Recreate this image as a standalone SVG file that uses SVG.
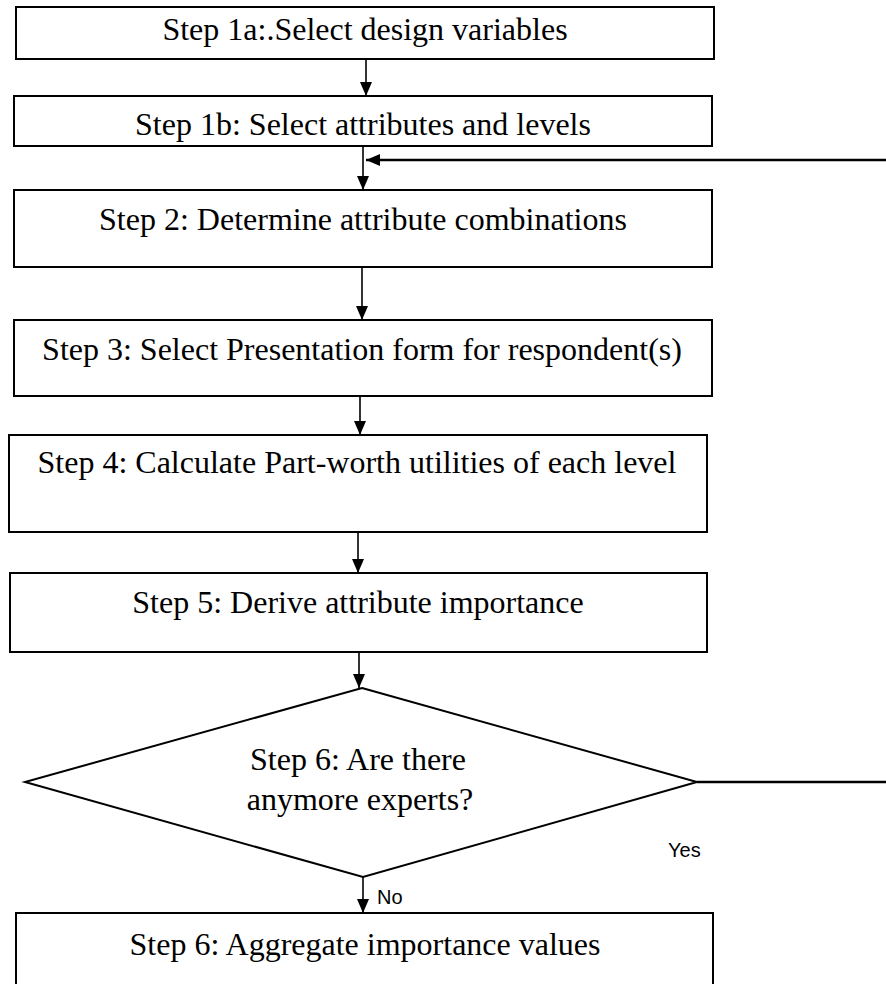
<svg xmlns="http://www.w3.org/2000/svg" width="886" height="984" viewBox="0 0 886 984">
<style>
.box{fill:#fff;stroke:#000;stroke-width:2}
.t{font-family:"Liberation Serif","Times New Roman",serif;font-size:32px;fill:#000;text-anchor:middle}
.lbl{font-family:"Liberation Sans",Arial,sans-serif;font-size:20px;fill:#000}
.c{fill:none;stroke:#000;stroke-width:1.6}
.fb{fill:none;stroke:#000;stroke-width:2.4}
</style>
<defs>
<marker id="ah" viewBox="0 0 14 12" refX="14" refY="6" markerWidth="14" markerHeight="12" markerUnits="userSpaceOnUse" orient="auto">
<path d="M0,0 L14,6 L0,12 Z" fill="#000"/>
</marker>
</defs>
<rect width="886" height="984" fill="#fff"/>
<g id="connectors">
<line class="c" x1="366" y1="59" x2="366" y2="96" marker-end="url(#ah)"/>
<line class="c" x1="363" y1="146" x2="363" y2="190" marker-end="url(#ah)"/>
<line class="fb" x1="886" y1="160" x2="366" y2="160" marker-end="url(#ah)"/>
<line class="c" x1="362" y1="267" x2="362" y2="320" marker-end="url(#ah)"/>
<line class="c" x1="360" y1="396" x2="360" y2="435" marker-end="url(#ah)"/>
<line class="c" x1="358" y1="532" x2="358" y2="573" marker-end="url(#ah)"/>
<line class="c" x1="359" y1="652" x2="359" y2="688" marker-end="url(#ah)"/>
<line class="fb" x1="697" y1="782" x2="886" y2="782"/>
<line class="c" x1="363" y1="877" x2="363" y2="913" marker-end="url(#ah)"/>
<text class="lbl" x="668" y="857">Yes</text>
<text class="lbl" x="377" y="904">No</text>
</g>
<g id="step1a">
<rect class="box" x="16" y="7" width="698" height="52"/>
<text class="t" x="365" y="40">Step 1a:.Select design variables</text>
</g>
<g id="step1b">
<rect class="box" x="14" y="96" width="698" height="50"/>
<text class="t" x="363" y="135">Step 1b: Select attributes and levels</text>
</g>
<g id="step2">
<rect class="box" x="14" y="190" width="698" height="77"/>
<text class="t" x="363" y="230">Step 2: Determine attribute combinations</text>
</g>
<g id="step3">
<rect class="box" x="14" y="320" width="698" height="76"/>
<text class="t" x="362" y="360">Step 3: Select Presentation form for respondent(s)</text>
</g>
<g id="step4">
<rect class="box" x="9" y="435" width="698" height="97"/>
<text class="t" x="357" y="473">Step 4: Calculate Part-worth utilities of each level</text>
</g>
<g id="step5">
<rect class="box" x="10" y="573" width="697" height="79"/>
<text class="t" x="358" y="613">Step 5: Derive attribute importance</text>
</g>
<g id="step6-decision">
<polygon class="box" points="362,688 697,782 363,877 25,782"/>
<text class="t" x="358" y="770">Step 6: Are there</text>
<text class="t" x="360" y="810">anymore experts?</text>
</g>
<g id="step6-aggregate">
<rect class="box" x="16" y="913" width="697" height="80"/>
<text class="t" x="365" y="955">Step 6: Aggregate importance values</text>
</g>
</svg>
